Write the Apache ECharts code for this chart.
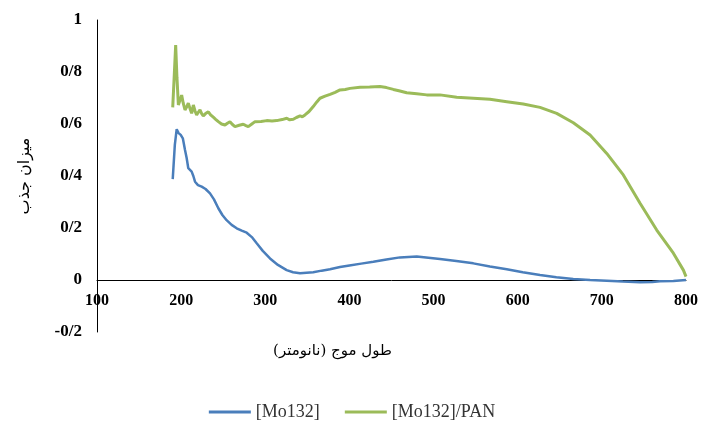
<!DOCTYPE html>
<html>
<head>
<meta charset="utf-8">
<script src="https://cdn.jsdelivr.net/npm/echarts@6/dist/echarts.min.js"></script>
<style>html,body{margin:0;padding:0;background:#fff;}#chart{width:704px;height:428px;}</style>
</head>
<body>
<div id="chart"></div>
<script>
var seriesNames = ['[Mo132]', '[Mo132]/PAN'];
var xTicks = [100, 200, 300, 400, 500, 600, 700, 800];
var yTicks = [-0.2, 0, 0.2, 0.4, 0.6, 0.8, 1];
var yTickLabels = ['-0/2', '0', '0/2', '0/4', '0/6', '0/8', '1'];

var blueX = [190,192.5,194.7,197,199.5,202,204.6,206.5,208.5,210.5,
  212.5,214.5,216.5,220,224.4,229,234.3,239,244.2,249,
  254,260,266,272,277.9,284,289.8,297,305.6,315,
  325.4,333,341.3,349,357,367,376.9,388.8,400,414,
  428.4,444,460,480,507.6,527,547.2,567,587,606,
  626.5,646,666,686,705.8,725,745.4,760,769,785,800];
var blueY = [0.388,0.52,0.58,0.565,0.558,0.545,0.5,0.47,0.43,0.425,
  0.417,0.40,0.378,0.365,0.359,0.35,0.333,0.31,0.276,0.25,
  0.23,0.212,0.199,0.19,0.182,0.165,0.141,0.112,0.083,0.058,
  0.038,0.03,0.026,0.028,0.03,0.036,0.041,0.05,0.056,0.063,
  0.07,0.079,0.087,0.09,0.081,0.073,0.064,0.052,0.041,0.03,
  0.019,0.011,0.004,0.0,-0.003,-0.006,-0.009,-0.008,-0.005,-0.004,0.0];

var greenX = [190,192,193.5,195,196.7,198.5,200.6,202.5,204.6,206.5,
  208.5,210.5,212.5,214.5,216.5,218.4,220.4,222.4,224.4,226.3,
  229,232.3,235,238.2,241,244.2,248,252.1,255,258,
  261,264,269,273.9,277,279.8,284,287.8,295,301.7,
  308,313.6,320,325.5,329,333.3,337,341.3,344,347.2,
  352,357,361,365,371,377,383,388.8,395,400.7,
  412.6,424,436.3,444,452.2,460,468,480,491.8,507.6,
  527.5,547.2,567,587,606.6,626.5,646.3,666.1,686,705.8,
  725.5,745.4,765.2,785,796.9,800];
var greenY = [0.664,0.8,0.904,0.78,0.673,0.69,0.711,0.68,0.654,0.665,
  0.68,0.66,0.641,0.673,0.65,0.635,0.645,0.654,0.64,0.631,
  0.64,0.647,0.635,0.626,0.618,0.609,0.6,0.596,0.603,0.609,
  0.598,0.59,0.595,0.599,0.594,0.59,0.6,0.609,0.61,0.613,
  0.612,0.613,0.617,0.622,0.616,0.618,0.625,0.631,0.628,0.635,
  0.648,0.667,0.684,0.699,0.707,0.714,0.722,0.731,0.733,0.737,
  0.741,0.742,0.744,0.74,0.733,0.727,0.72,0.716,0.712,0.712,
  0.703,0.699,0.695,0.686,0.677,0.664,0.641,0.605,0.558,0.487,
  0.404,0.295,0.192,0.103,0.038,0.013];

function pairs(xs, ys) { return xs.map(function (x, i) { return [x, ys[i]]; }); }
function yLabel(v) {
  for (var i = 0; i < yTicks.length; i++) {
    if (Math.abs(yTicks[i] - v) < 1e-6) return yTickLabels[i];
  }
  return '';
}

var chart = echarts.init(document.getElementById('chart'), null, {renderer: 'canvas'});
chart.setOption({
  backgroundColor: '#ffffff',
  animation: false,
  grid: {left: 97, right: 18, top: 20, bottom: 96, containLabel: false},
  legend: {
    bottom: 2,
    left: 'center',
    icon: 'rect',
    itemWidth: 42,
    itemHeight: 3,
    itemGap: 25,
    textStyle: {fontFamily: 'Liberation Serif', fontSize: 18, color: '#333'},
    data: seriesNames
  },
  xAxis: {
    type: 'value',
    min: xTicks[0],
    max: xTicks[xTicks.length - 1],
    interval: 100,
    offset: -52,
    name: 'طول موج (نانومتر)',
    nameLocation: 'middle',
    nameGap: 64,
    nameTextStyle: {fontFamily: 'DejaVu Serif, DejaVu Sans', fontSize: 15, color: '#000', padding: [0, 118, 0, 0]},
    axisLine: {onZero: false, lineStyle: {color: '#000', width: 1}},
    axisTick: {show: false},
    splitLine: {show: false},
    axisLabel: {fontFamily: 'Liberation Serif', fontWeight: 'bold', fontSize: 16, color: '#000', margin: 13}
  },
  yAxis: {
    type: 'value',
    min: yTicks[0],
    max: yTicks[yTicks.length - 1],
    interval: 0.2,
    name: 'میزان جذب',
    nameLocation: 'middle',
    nameGap: 64,
    nameRotate: 90,
    nameTextStyle: {fontFamily: 'DejaVu Serif, DejaVu Sans', fontSize: 16, color: '#000'},
    axisLine: {show: true, lineStyle: {color: '#000', width: 1}},
    axisTick: {show: false},
    splitLine: {show: false},
    axisLabel: {fontFamily: 'Liberation Serif', fontWeight: 'bold', fontSize: 17, color: '#000', margin: 15, formatter: yLabel}
  },
  series: [
    {
      name: seriesNames[0], type: 'line', showSymbol: false, symbol: 'none',
      data: pairs(blueX, blueY),
      itemStyle: {color: '#4A7EBB'},
      lineStyle: {color: '#4A7EBB', width: 2.5}
    },
    {
      name: seriesNames[1], type: 'line', showSymbol: false, symbol: 'none',
      data: pairs(greenX, greenY),
      itemStyle: {color: '#9BBB59'},
      lineStyle: {color: '#9BBB59', width: 3}
    }
  ]
});
</script>
</body>
</html>
